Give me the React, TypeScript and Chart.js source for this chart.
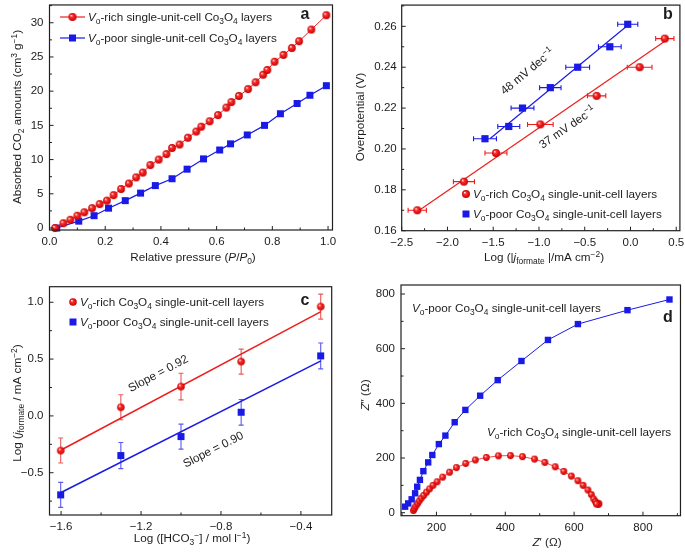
import React, { useEffect, useRef } from 'react';
import { Chart, registerables } from 'chart.js';
Chart.register(...registerables);

// ---------------- DATA ----------------
// Panel a: CO2 adsorption isotherms
const aRichX = [0.02, 0.05, 0.075, 0.10, 0.125, 0.153, 0.18, 0.206, 0.23, 0.257, 0.285, 0.311, 0.335, 0.362, 0.392, 0.42, 0.44, 0.467, 0.497, 0.527, 0.545, 0.575, 0.605, 0.635, 0.653, 0.68, 0.713, 0.74, 0.767, 0.782, 0.808, 0.84, 0.87, 0.896, 0.94, 0.994];
const aRichY = [0.0, 0.7, 1.2, 1.8, 2.3, 2.9, 3.5, 4.0, 4.8, 5.7, 6.5, 7.4, 8.1, 9.2, 10.0, 10.8, 11.7, 12.2, 13.2, 14.1, 14.8, 15.6, 16.5, 17.6, 18.4, 19.3, 20.3, 21.3, 22.4, 23.1, 24.3, 25.3, 26.3, 27.3, 29.0, 31.1];
const aPoorX = [0.026, 0.105, 0.16, 0.212, 0.272, 0.327, 0.38, 0.44, 0.494, 0.553, 0.611, 0.65, 0.71, 0.772, 0.829, 0.889, 0.935, 0.994];
const aPoorY = [0.0, 1.0, 1.8, 2.9, 4.0, 5.1, 6.2, 7.2, 8.6, 10.1, 11.4, 12.3, 13.6, 15.0, 16.7, 18.2, 19.4, 20.8];
const aXTicks = [0, 0.2, 0.4, 0.6, 0.8, 1.0];
const aYTicks = [0, 5, 10, 15, 20, 25, 30];

// Panel b: Tafel plots
const bRichX = [-2.33, -1.82, -1.47, -0.985, -0.37, 0.10, 0.375];
const bRichY = [0.170, 0.184, 0.198, 0.212, 0.226, 0.240, 0.254];
const bRichErr = [0.10, 0.115, 0.12, 0.14, 0.10, 0.135, 0.10];
const bPoorX = [-1.59, -1.33, -1.18, -0.876, -0.577, -0.226, -0.03];
const bPoorY = [0.205, 0.211, 0.220, 0.230, 0.240, 0.250, 0.261];
const bPoorErr = [0.125, 0.12, 0.125, 0.117, 0.13, 0.124, 0.11];
const bRichFitX = [-2.30, 0.383];
const bRichFitY = [0.1703, 0.2530];
const bPoorFitX = [-1.533, -0.029];
const bPoorFitY = [0.2051, 0.2605];
const bXTicks = [-2.5, -2.0, -1.5, -1.0, -0.5, 0.0, 0.5];
const bYTicks = [0.16, 0.18, 0.20, 0.22, 0.24, 0.26];

// Panel c: reaction order
const cX = [-1.602, -1.301, -1.0, -0.699, -0.301];
const cRichY = [-0.305, 0.076, 0.258, 0.478, 0.962];
const cRichErr = [0.11, 0.11, 0.117, 0.11, 0.11];
const cPoorY = [-0.695, -0.349, -0.182, 0.032, 0.528];
const cPoorErr = [0.11, 0.115, 0.11, 0.113, 0.114];
const cFitX = [-1.6, -0.3];
const cRichFitY = [-0.30, 0.918];
const cPoorFitY = [-0.674, 0.484];
const cXTicks = [-1.6, -1.2, -0.8, -0.4];
const cYTicks = [-0.5, 0.0, 0.5, 1.0];

// Panel d: Nyquist plots
const dPoorX = [109, 118, 128, 138, 144, 152, 162, 176, 188, 207, 226, 253, 284, 327, 378, 447, 524, 611, 755, 877];
const dPoorY = [22, 34, 49, 71, 95, 120, 152, 184, 211, 251, 282, 331, 376, 428, 485, 555, 632, 690, 741, 780];
const dRichX = [133, 136, 140, 145, 150, 156, 163, 171, 180, 190, 202, 218, 238, 258, 285, 313, 345, 380, 415, 450, 485, 515, 545, 570, 592, 611, 626, 640, 650, 657, 662, 667, 672, 670, 665];
const dRichY = [8, 15, 24, 33, 43, 53, 63, 75, 87, 100, 113, 130, 148, 165, 180, 193, 202, 208, 209, 205, 196, 184, 168, 151, 134, 117, 100, 83, 66, 50, 40, 35, 33, 30, 32];
const dXTicks = [200, 400, 600, 800];
const dYTicks = [0, 200, 400, 600, 800];

// ---------------- STYLE HELPERS ----------------
const FAM = '"Liberation Sans", Arial, Helvetica, sans-serif';
const TXT = '#1c1c1c';
const RED = '#ee1d1d';
const BLUE = '#1a1ae6';
const FS = 11.7;
const TICK_FS = 11.5;

type Seg = { t: string; s?: string };
const S = (t: string, s?: string): Seg => ({ t, s });

function fontFor(s: string | undefined, size: number, bold?: boolean) {
  const small = s === 'sub' || s === 'sup';
  const sz = small ? size * 0.72 : size;
  return `${s === 'i' ? 'italic ' : ''}${bold || s === 'b' ? 'bold ' : ''}${sz}px ${FAM}`;
}

function drawRich(ctx: CanvasRenderingContext2D, segs: Seg[], x: number, y: number, size: number, opts: any = {}) {
  ctx.save();
  ctx.translate(x, y);
  if (opts.angle) ctx.rotate(opts.angle);
  ctx.fillStyle = opts.color || TXT;
  ctx.textBaseline = 'alphabetic';
  ctx.textAlign = 'left';
  let w = 0;
  for (const sg of segs) {
    ctx.font = fontFor(sg.s, size, opts.bold);
    w += ctx.measureText(sg.t).width;
  }
  let cx = opts.align === 'center' ? -w / 2 : 0;
  const base = size * 0.36;
  for (const sg of segs) {
    ctx.font = fontFor(sg.s, size, opts.bold);
    const dy = sg.s === 'sub' ? size * 0.28 : sg.s === 'sup' ? -size * 0.4 : 0;
    ctx.fillText(sg.t, cx, base + dy);
    cx += ctx.measureText(sg.t).width;
  }
  ctx.restore();
}

function makeBall(d: number) {
  const c = document.createElement('canvas');
  const s = Math.ceil(d) + 2;
  c.width = s;
  c.height = s;
  const g = c.getContext('2d')!;
  const r = d / 2, cx = s / 2, cy = s / 2;
  const grad = g.createRadialGradient(cx - r * 0.35, cy - r * 0.4, r * 0.05, cx, cy, r);
  grad.addColorStop(0, '#ffe6e6');
  grad.addColorStop(0.35, '#ff2c2c');
  grad.addColorStop(1, '#c40000');
  g.fillStyle = grad;
  g.beginPath();
  g.arc(cx, cy, r, 0, Math.PI * 2);
  g.fill();
  return c;
}

const fmtMinus = (s: string) => s.replace('-', '\u2212');
const pts = (xs: number[], ys: number[]) => xs.map((x, i) => ({ x, y: ys[i] }));

function minorTicks(majors: number[], min: number, max: number) {
  const step = majors[1] - majors[0];
  const out: number[] = [];
  for (let v = majors[0] - step / 2; v <= majors[majors.length - 1] + step / 2 + 1e-9; v += step) {
    if (v > min + 1e-9 && v < max - 1e-9) out.push(v);
  }
  return out;
}

const legRich = (order: 'a' | 'b'): Seg[] => order === 'a'
  ? [S('V', 'i'), S('o', 'sub'), S('-rich single-unit-cell Co'), S('3', 'sub'), S('O'), S('4', 'sub'), S(' layers')]
  : [S('V', 'i'), S('o', 'sub'), S('-rich Co'), S('3', 'sub'), S('O'), S('4', 'sub'), S(' single-unit-cell layers')];
const legPoor = (order: 'a' | 'b'): Seg[] => order === 'a'
  ? [S('V', 'i'), S('o', 'sub'), S('-poor single-unit-cell Co'), S('3', 'sub'), S('O'), S('4', 'sub'), S(' layers')]
  : [S('V', 'i'), S('o', 'sub'), S('-poor Co'), S('3', 'sub'), S('O'), S('4', 'sub'), S(' single-unit-cell layers')];

// ---------------- PANEL ----------------
type AxisSpec = { min: number; max: number; ticks: number[]; fmt: (v: number) => string; pad: number };
type Spec = {
  left: number; top: number; w: number; h: number;
  area: { l: number; t: number; r: number; b: number };
  x: AxisSpec; y: AxisSpec;
  datasets: (ball: (d: number) => HTMLCanvasElement) => any[];
  before?: (chart: any) => void;
  after?: (chart: any) => void;
};

function Panel({ spec }: { spec: Spec }) {
  const ref = useRef<HTMLCanvasElement>(null);
  useEffect(() => {
    const { area, x, y } = spec;
    const xMinor = minorTicks(x.ticks, x.min, x.max);
    const yMinor = minorTicks(y.ticks, y.min, y.max);
    const plugin = {
      id: 'frameTicks',
      beforeDatasetsDraw(chart: any) {
        if (spec.before) spec.before(chart);
      },
      afterDatasetsDraw(chart: any) {
        const { ctx, chartArea: a, scales } = chart;
        ctx.save();
        ctx.strokeStyle = '#202020';
        ctx.lineWidth = 1.2;
        ctx.strokeRect(a.left, a.top, a.right - a.left, a.bottom - a.top);
        ctx.lineWidth = 1;
        ctx.beginPath();
        for (const v of x.ticks) {
          const p = scales.x.getPixelForValue(v);
          ctx.moveTo(p, a.bottom); ctx.lineTo(p, a.bottom - 4);
        }
        for (const v of xMinor) {
          const p = scales.x.getPixelForValue(v);
          ctx.moveTo(p, a.bottom); ctx.lineTo(p, a.bottom - 2.5);
        }
        for (const v of y.ticks) {
          const p = scales.y.getPixelForValue(v);
          ctx.moveTo(a.left, p); ctx.lineTo(a.left + 4, p);
        }
        for (const v of yMinor) {
          const p = scales.y.getPixelForValue(v);
          ctx.moveTo(a.left, p); ctx.lineTo(a.left + 2.5, p);
        }
        ctx.stroke();
        ctx.restore();
        if (spec.after) spec.after(chart);
      },
    };
    const axis = (ax: AxisSpec, isX: boolean) => ({
      type: 'linear',
      position: isX ? 'bottom' : 'left',
      min: ax.min,
      max: ax.max,
      grid: { display: false, drawTicks: false },
      border: { display: false },
      ticks: {
        padding: ax.pad,
        color: '#1c1c1c',
        font: { family: FAM, size: TICK_FS },
        maxRotation: 0,
        minRotation: 0,
        autoSkip: false,
        callback: (v: number) => ax.fmt(v),
      },
      afterBuildTicks: (s: any) => { s.ticks = ax.ticks.map((v) => ({ value: v })); },
      afterFit: (s: any) => {
        if (isX) s.height = spec.h - area.b; else s.width = area.l;
        s.paddingTop = 0; s.paddingBottom = 0; s.paddingLeft = 0; s.paddingRight = 0;
      },
    });
    const chart = new Chart(ref.current!, {
      type: 'scatter',
      data: { datasets: spec.datasets(makeBall) },
      options: {
        responsive: false,
        animation: false,
        devicePixelRatio: 1,
        layout: { padding: { left: 0, top: area.t, right: spec.w - area.r, bottom: 0 } },
        plugins: { legend: { display: false }, tooltip: { enabled: false } },
        scales: { x: axis(x, true), y: axis(y, false) } as any,
      },
      plugins: [plugin],
    } as any);
    return () => chart.destroy();
  }, [spec]);
  return (
    <canvas
      ref={ref}
      width={spec.w}
      height={spec.h}
      style={{ position: 'absolute', left: spec.left, top: spec.top, width: spec.w, height: spec.h }}
    />
  );
}

const markerSet = (data: any[], kind: 'ball' | 'sq', size: number, ball: any, extra: any = {}) => ({
  data,
  showLine: false,
  clip: false,
  pointStyle: kind === 'ball' ? ball(size) : 'rect',
  pointRadius: kind === 'ball' ? size / 2 : size / 1.414,
  pointBackgroundColor: BLUE,
  pointBorderWidth: 0,
  borderColor: kind === 'ball' ? RED : BLUE,
  ...extra,
});
const lineSet = (data: any[], color: string, width = 1.2) => ({
  data,
  showLine: true,
  borderColor: color,
  borderWidth: width,
  pointRadius: 0,
  clip: false,
});

function errBars(chart: any, xs: number[], ys: number[], errs: number[], color: string, horizontal: boolean) {
  const { ctx, scales } = chart;
  ctx.save();
  ctx.strokeStyle = color;
  ctx.lineWidth = 1.1;
  ctx.beginPath();
  xs.forEach((xv, i) => {
    if (horizontal) {
      const x1 = scales.x.getPixelForValue(xv - errs[i]);
      const x2 = scales.x.getPixelForValue(xv + errs[i]);
      const py = scales.y.getPixelForValue(ys[i]);
      ctx.moveTo(x1, py); ctx.lineTo(x2, py);
      ctx.moveTo(x1, py - 2.5); ctx.lineTo(x1, py + 2.5);
      ctx.moveTo(x2, py - 2.5); ctx.lineTo(x2, py + 2.5);
    } else {
      const y1 = scales.y.getPixelForValue(ys[i] - errs[i]);
      const y2 = scales.y.getPixelForValue(ys[i] + errs[i]);
      const px = scales.x.getPixelForValue(xv);
      ctx.moveTo(px, y1); ctx.lineTo(px, y2);
      ctx.moveTo(px - 2.5, y1); ctx.lineTo(px + 2.5, y1);
      ctx.moveTo(px - 2.5, y2); ctx.lineTo(px + 2.5, y2);
    }
  });
  ctx.stroke();
  ctx.restore();
}

function lineAngle(chart: any, xs: number[], ys: number[]) {
  const { scales } = chart;
  const dx = scales.x.getPixelForValue(xs[1]) - scales.x.getPixelForValue(xs[0]);
  const dy = scales.y.getPixelForValue(ys[1]) - scales.y.getPixelForValue(ys[0]);
  return Math.atan2(dy, dx);
}

function legendRow(ctx: any, ball: HTMLCanvasElement | null, x: number, y: number, segs: Seg[], textX: number) {
  if (ball) {
    ctx.drawImage(ball, x - ball.width / 2, y - ball.height / 2);
  } else {
    ctx.fillStyle = BLUE;
    ctx.fillRect(x - 3.5, y - 3.5, 7, 7);
  }
  drawRich(ctx, segs, textX, y, FS);
}

const specA: Spec = {
  left: 0, top: 0, w: 342, h: 270,
  area: { l: 49.5, t: 1, r: 332.5, b: 230 },
  x: { min: 0, max: 1.016, ticks: aXTicks, fmt: (v) => v.toFixed(1), pad: 5 },
  y: { min: -0.29, max: 32.6, ticks: aYTicks, fmt: (v) => String(v), pad: 6 },
  datasets: (ball) => [
    markerSet(pts(aRichX, aRichY), 'ball', 7.8, ball, { showLine: true, borderWidth: 1, borderColor: RED }),
    markerSet(pts(aPoorX, aPoorY), 'sq', 7, ball, { showLine: true, borderWidth: 1.2, borderColor: BLUE }),
  ],
  after: (chart) => {
    const ctx = chart.ctx;
    ctx.save();
    ctx.lineWidth = 1.2;
    ctx.strokeStyle = RED;
    ctx.beginPath(); ctx.moveTo(60, 17); ctx.lineTo(85, 17); ctx.stroke();
    ctx.strokeStyle = BLUE;
    ctx.beginPath(); ctx.moveTo(60, 38); ctx.lineTo(85, 38); ctx.stroke();
    const b = makeBall(8);
    ctx.drawImage(b, 72.5 - b.width / 2, 17 - b.height / 2);
    ctx.fillStyle = BLUE;
    ctx.fillRect(69, 34.5, 7, 7);
    ctx.restore();
    drawRich(ctx, legRich('a'), 88, 17, FS);
    drawRich(ctx, legPoor('a'), 88, 38, FS);
    drawRich(ctx, [S('a')], 305, 13, 16, { align: 'center', bold: true });
    drawRich(ctx, [S('Absorbed CO'), S('2', 'sub'), S(' amounts (cm'), S('3', 'sup'), S(' g'), S('\u22121', 'sup'), S(')')], 17, 117, FS, { align: 'center', angle: -Math.PI / 2 });
    drawRich(ctx, [S('Relative pressure ('), S('P', 'i'), S('/'), S('P', 'i'), S('0', 'sub'), S(')')], 193, 257, FS, { align: 'center' });
  },
};

const specB: Spec = {
  left: 342, top: 0, w: 343, h: 270,
  area: { l: 59.7, t: 1, r: 338.5, b: 230.7 },
  x: { min: -2.5, max: 0.54, ticks: bXTicks, fmt: (v) => fmtMinus(v.toFixed(1)), pad: 5 },
  y: { min: 0.16, max: 0.2704, ticks: bYTicks, fmt: (v) => v.toFixed(2), pad: 5 },
  datasets: (ball) => [
    markerSet(pts(bRichX, bRichY), 'ball', 8, ball),
    markerSet(pts(bPoorX, bPoorY), 'sq', 7.2, ball),
    lineSet(pts(bRichFitX, bRichFitY), RED),
    lineSet(pts(bPoorFitX, bPoorFitY), BLUE),
  ],
  before: (chart) => {
    errBars(chart, bRichX, bRichY, bRichErr, RED, true);
    errBars(chart, bPoorX, bPoorY, bPoorErr, BLUE, true);
  },
  after: (chart) => {
    const ctx = chart.ctx;
    const aBlue = lineAngle(chart, bPoorFitX, bPoorFitY);
    const aRed = lineAngle(chart, bRichFitX, bRichFitY);
    drawRich(ctx, [S('48 mV dec'), S('\u22121', 'sup')], 185, 71, FS, { align: 'center', angle: aBlue });
    drawRich(ctx, [S('37 mV dec'), S('\u22121', 'sup')], 225, 127, FS, { align: 'center', angle: aRed });
    legendRow(ctx, makeBall(8), 124, 194, legRich('b'), 131);
    legendRow(ctx, null, 124, 214, legPoor('b'), 131);
    drawRich(ctx, [S('b')], 326, 13, 16, { align: 'center', bold: true });
    drawRich(ctx, [S('Overpotential (V)')], 18, 117, FS, { align: 'center', angle: -Math.PI / 2 });
    drawRich(ctx, [S('Log (|'), S('j', 'i'), S('formate', 'sub'), S(' |/mA cm'), S('\u22122', 'sup'), S(')')], 202, 257, FS, { align: 'center' });
  },
};

const specC: Spec = {
  left: 0, top: 270, w: 342, h: 283,
  area: { l: 49.5, t: 16.7, r: 331.7, b: 245 },
  x: { min: -1.658, max: -0.246, ticks: cXTicks, fmt: (v) => fmtMinus(v.toFixed(1)), pad: 5 },
  y: { min: -0.872, max: 1.137, ticks: cYTicks, fmt: (v) => fmtMinus(v.toFixed(1)), pad: 6 },
  datasets: (ball) => [
    markerSet(pts(cX, cRichY), 'ball', 7.5, ball),
    markerSet(pts(cX, cPoorY), 'sq', 7, ball),
    lineSet(pts(cFitX, cRichFitY), RED, 1.5),
    lineSet(pts(cFitX, cPoorFitY), BLUE, 1.5),
  ],
  before: (chart) => {
    errBars(chart, cX, cRichY, cRichErr, '#e85a5a', false);
    errBars(chart, cX, cPoorY, cPoorErr, '#5a5af0', false);
  },
  after: (chart) => {
    const ctx = chart.ctx;
    const aR = lineAngle(chart, cFitX, cRichFitY);
    const aB = lineAngle(chart, cFitX, cPoorFitY);
    drawRich(ctx, [S('Slope = 0.92')], 158, 103, FS, { align: 'center', angle: aR });
    drawRich(ctx, [S('Slope = 0.90')], 213, 179, FS, { align: 'center', angle: aB });
    legendRow(ctx, makeBall(7.5), 73, 32, legRich('b'), 80);
    legendRow(ctx, null, 73, 52, legPoor('b'), 80);
    drawRich(ctx, [S('c')], 305, 29, 16, { align: 'center', bold: true });
    drawRich(ctx, [S('Log ('), S('j', 'i'), S('formate', 'sub'), S(' / mA cm'), S('\u22122', 'sup'), S(')')], 17, 133, FS, { align: 'center', angle: -Math.PI / 2 });
    drawRich(ctx, [S('Log ([HCO'), S('3', 'sub'), S('\u2212', 'sup'), S('] / mol l'), S('\u22121', 'sup'), S(')')], 192, 268, FS, { align: 'center' });
  },
};

const specD: Spec = {
  left: 342, top: 270, w: 343, h: 283,
  area: { l: 59, t: 15, r: 341, b: 245.7 },
  x: { min: 97, max: 909, ticks: dXTicks, fmt: (v) => String(v), pad: 5 },
  y: { min: -11, max: 833, ticks: dYTicks, fmt: (v) => String(v), pad: 6 },
  datasets: (ball) => [
    markerSet(pts(dPoorX, dPoorY), 'sq', 6.4, ball, { showLine: true, borderWidth: 1, borderColor: BLUE }),
    markerSet(pts(dRichX, dRichY), 'ball', 6.8, ball, { showLine: true, borderWidth: 0.8, borderColor: RED }),
  ],
  after: (chart) => {
    const ctx = chart.ctx;
    drawRich(ctx, legPoor('b'), 70, 38, FS);
    drawRich(ctx, legRich('b'), 145, 162, FS);
    drawRich(ctx, [S('d')], 326, 46, 16, { align: 'center', bold: true });
    drawRich(ctx, [S('Z', 'i'), S('\u2033 (\u03A9)')], 23, 125, FS, { align: 'center', angle: -Math.PI / 2 });
    drawRich(ctx, [S('Z', 'i'), S('\u2032 (\u03A9)')], 205, 272, FS, { align: 'center' });
  },
};

export default function App() {
  return (
    <div style={{ position: 'absolute', left: 0, top: 0, width: 685, height: 553, background: '#fff', overflow: 'hidden' }}>
      <Panel spec={specA} />
      <Panel spec={specB} />
      <Panel spec={specC} />
      <Panel spec={specD} />
    </div>
  );
}
